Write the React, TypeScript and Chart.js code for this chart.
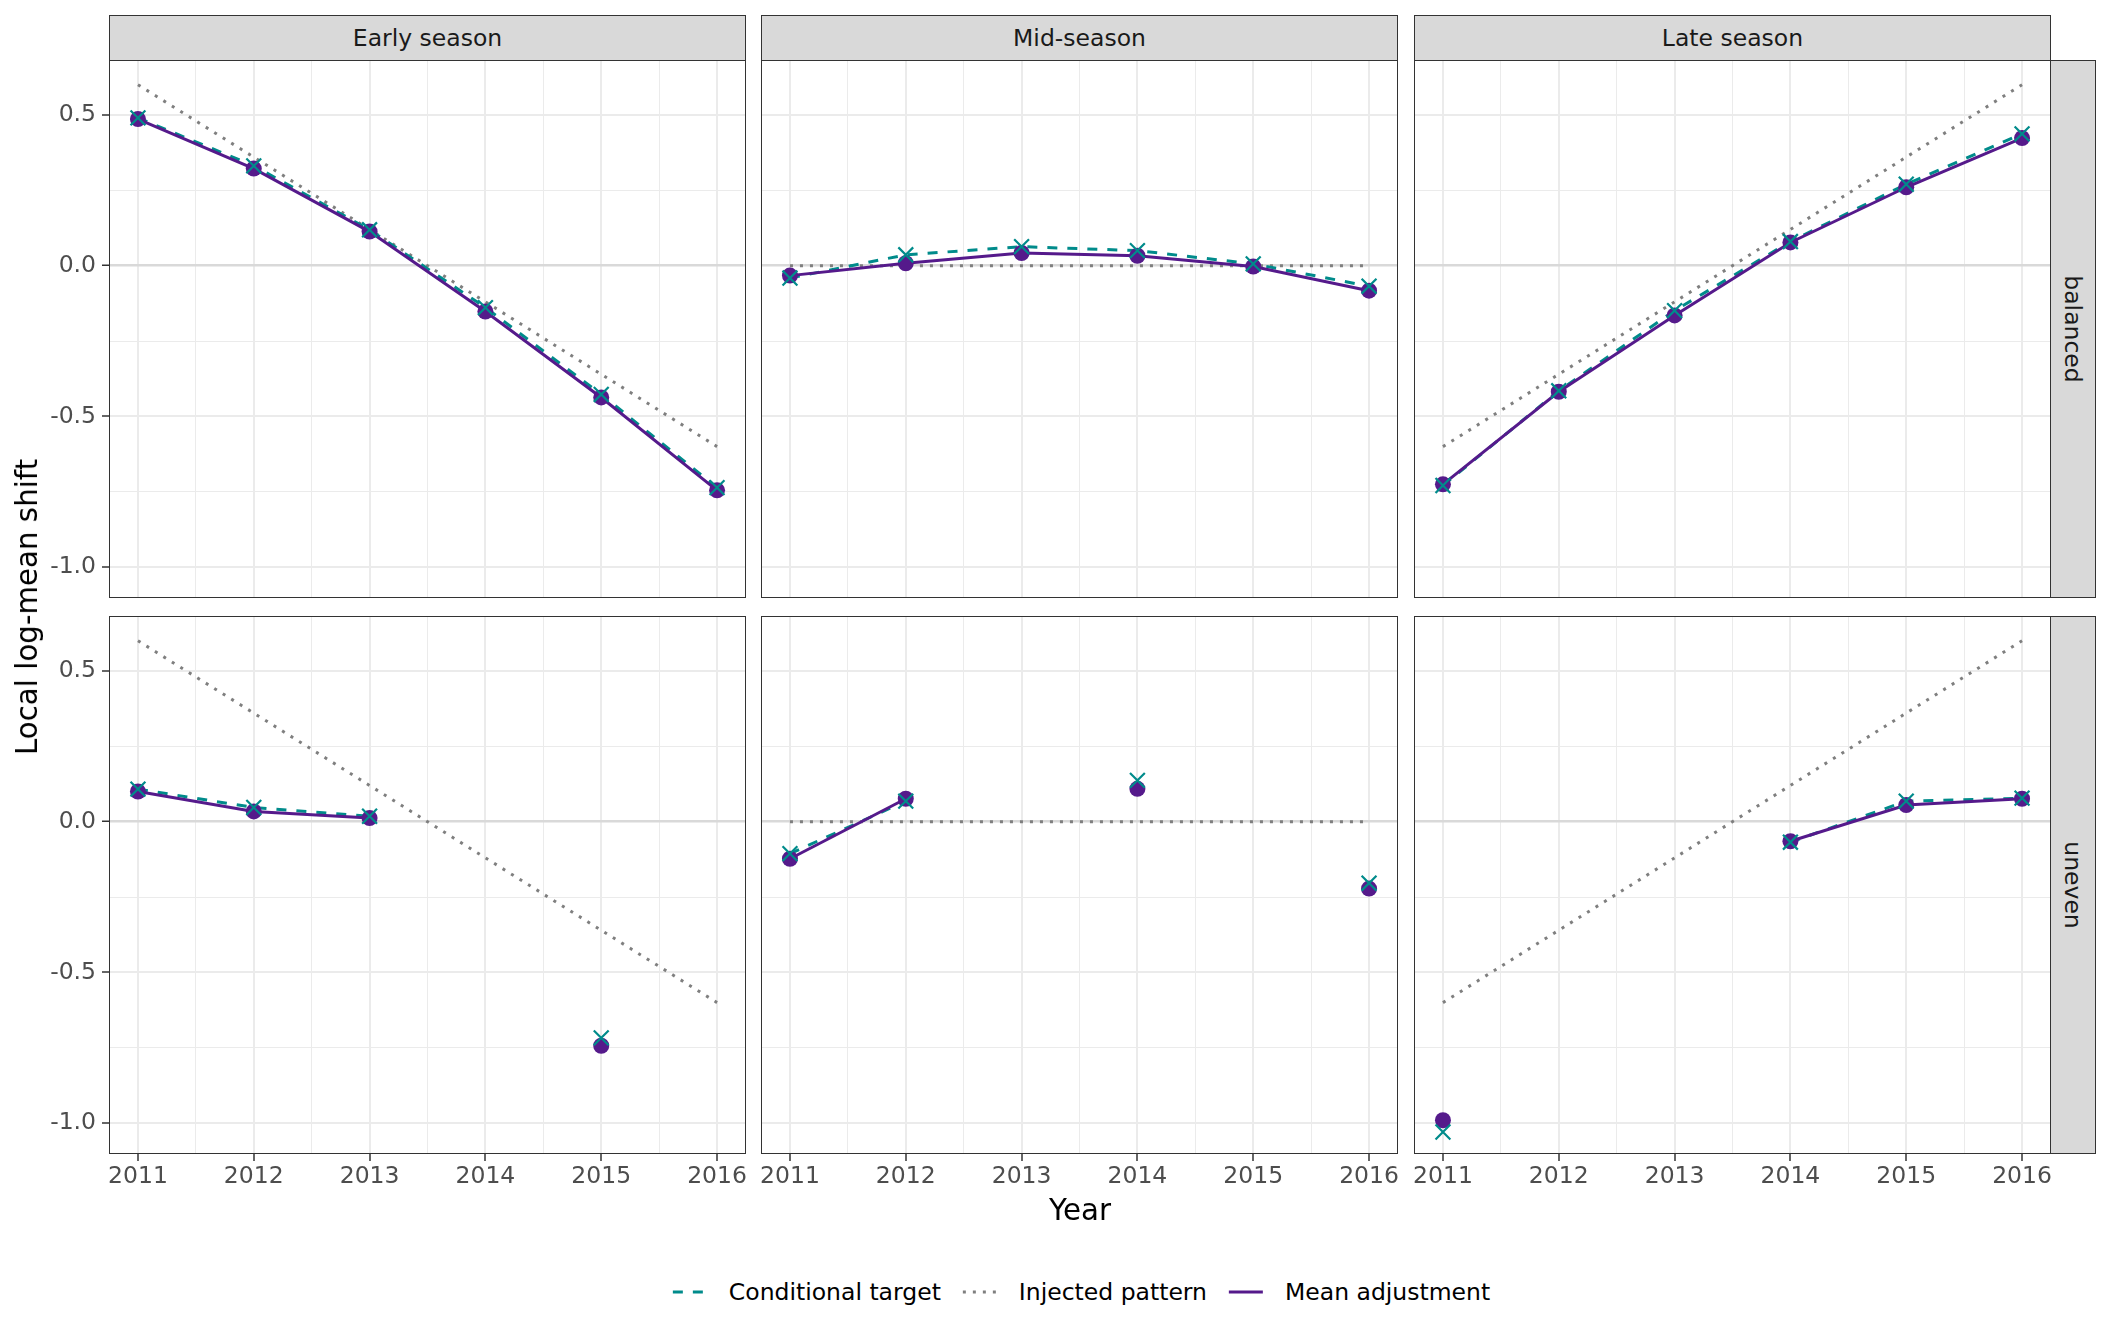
import { useEffect, useRef } from "react"
import { Chart, registerables } from "chart.js"

Chart.register(...registerables)

// ---- data ----
const YEARS = [2011, 2012, 2013, 2014, 2015, 2016]
const SEASONS = ["Early season", "Mid-season", "Late season"]
const DESIGNS = ["balanced", "uneven"]
const Y_TICKS = [-1.0, -0.5, 0.0, 0.5]
const Y_MINOR = [-0.75, -0.25, 0.25]
const X_MINOR = [2011.5, 2012.5, 2013.5, 2014.5, 2015.5]

const INJECTED_EARLY = [0.6, 0.36, 0.12, -0.12, -0.36, -0.6]
const INJECTED_MID = [0, 0, 0, 0, 0, 0]
const INJECTED_LATE = [-0.6, -0.36, -0.12, 0.12, 0.36, 0.6]

const TARGET_EARLY_BAL = [0.49, 0.331, 0.119, -0.139, -0.427, -0.736]
const MEAN_EARLY_BAL = [0.486, 0.322, 0.113, -0.152, -0.437, -0.745]
const TARGET_MID_BAL = [-0.041, 0.036, 0.063, 0.05, 0.006, -0.068]
const MEAN_MID_BAL = [-0.033, 0.008, 0.042, 0.033, -0.003, -0.083]
const TARGET_LATE_BAL = [-0.729, -0.415, -0.149, 0.08, 0.27, 0.437]
const MEAN_LATE_BAL = [-0.725, -0.418, -0.165, 0.077, 0.26, 0.423]

const TARGET_EARLY_UNEV = [0.108, 0.047, 0.018, null, -0.717, null]
const MEAN_EARLY_UNEV = [0.1, 0.034, 0.012, null, -0.743, null]
const TARGET_MID_UNEV = [-0.106, 0.068, null, 0.137, null, -0.204]
const MEAN_MID_UNEV = [-0.123, 0.076, null, 0.109, null, -0.222]
const TARGET_LATE_UNEV = [-1.029, null, null, -0.068, 0.068, 0.078]
const MEAN_LATE_UNEV = [-0.99, null, null, -0.065, 0.055, 0.076]

const INJECTED = [INJECTED_EARLY, INJECTED_MID, INJECTED_LATE]
const TARGET = [
  [TARGET_EARLY_BAL, TARGET_MID_BAL, TARGET_LATE_BAL],
  [TARGET_EARLY_UNEV, TARGET_MID_UNEV, TARGET_LATE_UNEV],
]
const MEAN = [
  [MEAN_EARLY_BAL, MEAN_MID_BAL, MEAN_LATE_BAL],
  [MEAN_EARLY_UNEV, MEAN_MID_UNEV, MEAN_LATE_UNEV],
]

// ---- look ----
const FONT = "'DejaVu Sans', sans-serif"
const TEAL = "#008B8B"
const PURPLE = "#551A8B"
const GREY = "#7F7F7F"
const GRID = "#EBEBEB"
const ZERO = "#D9D9D9"
const DARK = "#333333"
const TEXT_SIZE = 23.5
const TITLE_SIZE = 29.3

const Y_MIN = -1.102
const Y_MAX = 0.682
const X_MIN = 2010.75
const X_MAX = 2016.25

// layout in px
const COL_LEFT = [109, 761, 1414]
const ROW_TOP = [60, 616]
const PANEL_W = 637
const PANEL_H = 538
const Y_AXIS_W = 109
const X_AXIS_H = 50

const pts = (vals: (number | null)[]) => YEARS.map((x, i) => ({ x, y: vals[i] }))

function FacetPanel({ row, col }: { row: number; col: number }) {
  const chartRef = useRef<HTMLCanvasElement>(null)

  const showY = col === 0
  const showX = row === 1

  useEffect(() => {
    if (!chartRef.current) return
    const ctx = chartRef.current.getContext("2d")
    if (!ctx) return

    const chart = new Chart(ctx, {
      type: "line",
      data: {
        datasets: [
          {
            label: "Conditional target points",
            data: pts(TARGET[row][col]),
            showLine: false,
            pointStyle: "crossRot",
            pointRadius: 10.5,
            pointBorderWidth: 2.2,
            pointBorderColor: TEAL,
            pointBackgroundColor: TEAL,
          },
          {
            label: "Mean adjustment points",
            data: pts(MEAN[row][col]),
            showLine: false,
            pointStyle: "circle",
            pointRadius: 8,
            pointBorderWidth: 0,
            pointBackgroundColor: PURPLE,
          },
          {
            label: "Mean adjustment",
            data: pts(MEAN[row][col]),
            borderColor: PURPLE,
            borderWidth: 3,
            pointRadius: 0,
            spanGaps: false,
          },
          {
            label: "Conditional target",
            data: pts(TARGET[row][col]),
            borderColor: TEAL,
            borderWidth: 3,
            borderDash: [10, 10],
            pointRadius: 0,
            spanGaps: false,
          },
          {
            label: "Injected pattern",
            data: pts(INJECTED[col]),
            borderColor: GREY,
            borderWidth: 3,
            borderDash: [3, 7],
            pointRadius: 0,
          },
        ],
      },
      options: {
        animation: false,
        responsive: true,
        maintainAspectRatio: false,
        layout: { padding: 0, autoPadding: false },
        plugins: {
          legend: { display: false },
          tooltip: { enabled: false },
        },
        scales: {
          x: {
            type: "linear",
            min: X_MIN,
            max: X_MAX,
            afterBuildTicks: (scale: any) => {
              scale.ticks = [...YEARS, ...X_MINOR].sort((a, b) => a - b).map((v) => ({ value: v }))
            },
            afterFit: (scale: any) => {
              scale.height = showX ? X_AXIS_H : 0
              scale.paddingLeft = 0
              scale.paddingRight = 0
            },
            border: { display: false },
            grid: {
              color: GRID,
              lineWidth: (c: any) => (YEARS.includes(c.tick?.value) ? 2 : 1),
              drawTicks: showX,
              tickLength: 7,
              tickWidth: 1.5,
              tickColor: (c: any) => (YEARS.includes(c.tick?.value) ? DARK : "rgba(0,0,0,0)"),
            },
            ticks: {
              display: showX,
              autoSkip: false,
              maxRotation: 0,
              padding: 2,
              color: "#4D4D4D",
              font: { family: FONT, size: TEXT_SIZE },
              callback: (v: any) => (YEARS.includes(Number(v)) ? String(v) : ""),
            },
          },
          y: {
            type: "linear",
            min: Y_MIN,
            max: Y_MAX,
            afterBuildTicks: (scale: any) => {
              scale.ticks = [...Y_TICKS, ...Y_MINOR].sort((a, b) => a - b).map((v) => ({ value: v }))
            },
            afterFit: (scale: any) => {
              scale.width = showY ? Y_AXIS_W : 0
              scale.paddingTop = 0
              scale.paddingBottom = 0
            },
            border: { display: false },
            grid: {
              color: (c: any) => (c.tick?.value === 0 ? ZERO : GRID),
              lineWidth: (c: any) => (c.tick?.value === 0 ? 2.5 : Y_TICKS.includes(c.tick?.value) ? 2 : 1),
              drawTicks: showY,
              tickLength: 7,
              tickWidth: 1.5,
              tickColor: (c: any) => (Y_TICKS.includes(c.tick?.value) ? DARK : "rgba(0,0,0,0)"),
            },
            ticks: {
              display: showY,
              padding: 6,
              color: "#4D4D4D",
              font: { family: FONT, size: TEXT_SIZE },
              callback: (v: any) => (Y_TICKS.includes(Number(v)) ? Number(v).toFixed(1) : ""),
            },
          },
        },
      },
    } as any)

    return () => {
      chart.destroy()
    }
  }, [row, col])

  const left = COL_LEFT[col] - (showY ? Y_AXIS_W : 0)
  const width = PANEL_W + (showY ? Y_AXIS_W : 0)
  const height = PANEL_H + (showX ? X_AXIS_H : 0)

  return (
    <>
      <div style={{ position: "absolute", left, top: ROW_TOP[row], width, height }}>
        <canvas ref={chartRef} />
      </div>
      <div
        style={{
          position: "absolute",
          left: COL_LEFT[col],
          top: ROW_TOP[row],
          width: PANEL_W,
          height: PANEL_H,
          border: `1.5px solid ${DARK}`,
          boxSizing: "border-box",
          pointerEvents: "none",
        }}
      />
    </>
  )
}

function LegendKey({ color, dash }: { color: string; dash?: string }) {
  return (
    <svg width={36} height={20} style={{ display: "block" }}>
      <line x1={1} y1={10} x2={35} y2={10} stroke={color} strokeWidth={3} strokeDasharray={dash} />
    </svg>
  )
}

export default function App() {
  const stripStyle: React.CSSProperties = {
    position: "absolute",
    background: "#D9D9D9",
    border: `1.5px solid ${DARK}`,
    boxSizing: "border-box",
    color: "#1A1A1A",
    fontSize: TEXT_SIZE,
    display: "flex",
    alignItems: "center",
    justifyContent: "center",
  }

  const legendItems = [
    { label: "Conditional target", color: TEAL, dash: "10 10" },
    { label: "Injected pattern", color: GREY, dash: "3 7" },
    { label: "Mean adjustment", color: PURPLE, dash: undefined },
  ]

  return (
    <div
      style={{
        position: "absolute",
        left: 0,
        top: 0,
        width: 2112,
        height: 1344,
        background: "#FFFFFF",
        fontFamily: FONT,
        overflow: "hidden",
      }}
    >
      {SEASONS.map((s, c) => (
        <div key={s} style={{ ...stripStyle, left: COL_LEFT[c], top: 15, width: PANEL_W, height: 46 }}>
          {s}
        </div>
      ))}
      {DESIGNS.map((d, r) => (
        <div
          key={d}
          style={{ ...stripStyle, left: COL_LEFT[2] + PANEL_W - 1, top: ROW_TOP[r], width: 46, height: PANEL_H }}
        >
          <span style={{ transform: "rotate(90deg)", whiteSpace: "nowrap" }}>{d}</span>
        </div>
      ))}

      {DESIGNS.map((_, r) => SEASONS.map((_, c) => <FacetPanel key={`${r}-${c}`} row={r} col={c} />))}

      <div
        style={{
          position: "absolute",
          left: 27,
          top: 607,
          transform: "translate(-50%, -50%) rotate(-90deg)",
          whiteSpace: "nowrap",
          fontSize: TITLE_SIZE,
          color: "#000",
        }}
      >
        Local log-mean shift
      </div>
      <div
        style={{
          position: "absolute",
          left: 1080,
          top: 1210,
          transform: "translate(-50%, -50%)",
          fontSize: TITLE_SIZE,
          color: "#000",
        }}
      >
        Year
      </div>

      <div
        style={{
          position: "absolute",
          left: 1081,
          top: 1292,
          transform: "translate(-50%, -50%)",
          display: "flex",
          alignItems: "center",
          fontSize: TEXT_SIZE,
          color: "#000",
          whiteSpace: "nowrap",
        }}
      >
        {legendItems.map((it, i) => (
          <div key={it.label} style={{ display: "flex", alignItems: "center", marginLeft: i === 0 ? 0 : 21 }}>
            <LegendKey color={it.color} dash={it.dash} />
            <span style={{ marginLeft: 21 }}>{it.label}</span>
          </div>
        ))}
      </div>
    </div>
  )
}
